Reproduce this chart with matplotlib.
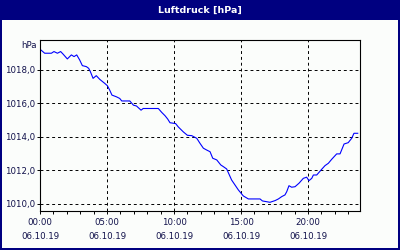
import matplotlib
matplotlib.use('Agg')
from matplotlib import pyplot as plt
from matplotlib.patches import Rectangle

#--------------------------------------------------------60
# Data

hours = [0.0, 0.35, 0.85, 1.04, 1.3, 1.54, 1.72, 2.04, 2.34, 2.54,
         2.74, 2.96, 3.16, 3.46, 3.63, 3.76, 3.96, 4.2, 4.46, 4.83,
         5.03, 5.2, 5.37, 5.7, 5.95, 6.1, 6.7, 6.97, 7.2, 7.54,
         7.7, 8.83, 9.08, 9.33, 9.53, 9.7, 10.12, 10.32, 10.7, 11.0,
         11.32, 11.7, 11.94, 12.19, 12.44, 12.69, 12.89, 13.19, 13.49, 13.68,
         13.93, 14.3, 14.8, 15.17, 15.55, 16.42, 16.6, 17.16, 17.54, 17.79,
         18.04, 18.28, 18.41, 18.58, 18.78, 19.03, 19.33, 19.65, 19.9, 20.07,
         20.28, 20.4, 20.65, 21.02, 21.27, 21.52, 21.77, 22.14, 22.39, 22.69,
         23.0, 23.26, 23.43, 23.71]

pressure = [1019.24, 1019.0, 1019.0, 1019.1, 1019.0, 1019.1, 1018.95, 1018.66, 1018.9, 1018.8,
            1018.9, 1018.6, 1018.26, 1018.2, 1018.1, 1017.9, 1017.5, 1017.66, 1017.44, 1017.2,
            1017.06, 1016.8, 1016.5, 1016.4, 1016.3, 1016.15, 1016.15, 1015.9, 1015.85, 1015.6,
            1015.7, 1015.7, 1015.47, 1015.27, 1015.07, 1014.85, 1014.8, 1014.6, 1014.3, 1014.1,
            1014.08, 1013.92, 1013.62, 1013.33, 1013.22, 1013.12, 1012.73, 1012.63, 1012.33, 1012.23,
            1012.09, 1011.43, 1010.84, 1010.48, 1010.3, 1010.3, 1010.18, 1010.1, 1010.2, 1010.3,
            1010.44, 1010.54, 1010.73, 1011.09, 1011.0, 1011.03, 1011.24, 1011.53, 1011.6, 1011.39,
            1011.53, 1011.73, 1011.73, 1012.07, 1012.29, 1012.43, 1012.67, 1012.99, 1012.99, 1013.58,
            1013.66, 1013.92, 1014.22, 1014.22]

x_ticks = [0, 5, 10, 15, 20]
x_labels = ['00:00\n06.10.19', '05:00\n06.10.19', '10:00\n06.10.19',
            '15:00\n06.10.19', '20:00\n06.10.19']
y_ticks = [1010, 1012, 1014, 1016, 1018]
y_labels = ['1010,0', '1012,0', '1014,0', '1016,0', '1018,0']

#--------------------------------------------------------60

navy = '#000080'
fsize = 6.2

fig = plt.figure(figsize=(4, 2.5), dpi=100)
fig.patch.set_facecolor('#fbfdfb')

# title bar and frame
fig.add_artist(Rectangle((0, 0.92), 1, 0.08, transform=fig.transFigure,
                         facecolor=navy, edgecolor='none'))
fig.add_artist(Rectangle((0, 0), 0.005, 1, transform=fig.transFigure,
                         facecolor=navy, edgecolor='none'))
fig.add_artist(Rectangle((0.995, 0), 0.005, 1, transform=fig.transFigure,
                         facecolor=navy, edgecolor='none'))
fig.add_artist(Rectangle((0, 0), 1, 0.008, transform=fig.transFigure,
                         facecolor=navy, edgecolor='none'))
fig.text(0.5, 0.958, 'Luftdruck [hPa]', color='white', fontsize=6.8,
         fontweight='bold', ha='center', va='center')

ax = fig.add_axes([0.1, 0.156, 0.8, 0.684])
ax.set_facecolor('#fbfdfb')
ax.plot(hours, pressure, color='#0000ff', lw=0.8)

ax.set_xlim(0, 23.88)
ax.set_ylim(1009.58, 1019.79)

ax.set_xticks(x_ticks)
ax.set_xticklabels(x_labels, fontsize=fsize, linespacing=1.85, color='#10104a')
ax.set_xticks(range(0, 24), minor=True)
ax.set_yticks(y_ticks)
ax.set_yticklabels(y_labels, fontsize=fsize, color='#10104a')

ax.tick_params(axis='x', which='both', direction='out', length=2.2,
               width=0.7, pad=2.5)
ax.tick_params(axis='y', direction='out', length=2.2, width=0.7, pad=1)

ax.grid(True, which='major', color='black', linestyle=(0, (3, 3)), lw=0.7)
for sp in ax.spines.values():
    sp.set_linewidth(0.8)

ax.text(-0.01, 0.97, 'hPa', transform=ax.transAxes, ha='right', va='center',
        fontsize=fsize, color='#10104a')

plt.savefig('out.png', dpi=100, facecolor=fig.get_facecolor())
